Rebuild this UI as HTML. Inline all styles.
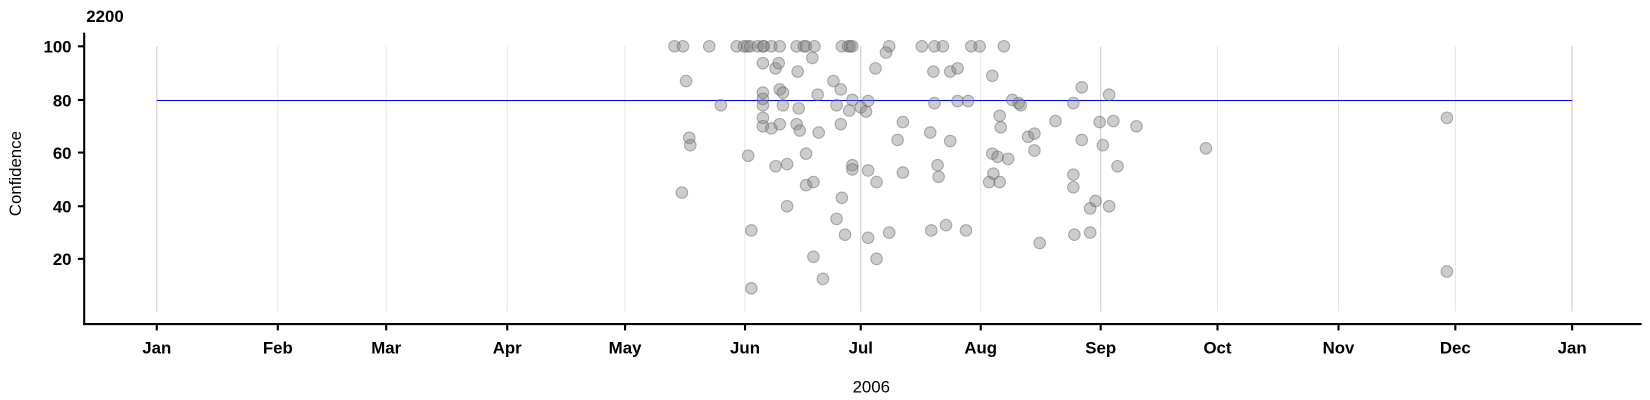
<!DOCTYPE html>
<html><head><meta charset="utf-8"><style>
body{margin:0;background:#fff;overflow:hidden;}
svg{display:block;}
svg text{font-family:"Liberation Sans",Arial,sans-serif;}
</style></head><body>
<svg width="1650" height="400" viewBox="0 0 1568 380.12" preserveAspectRatio="none" xmlns="http://www.w3.org/2000/svg">
<g stroke-width="1">
<line x1="149" y1="44" x2="149" y2="296" stroke="#ccc"/>
<line x1="264" y1="44" x2="264" y2="296" stroke="#e6e6e6"/>
<line x1="367" y1="44" x2="367" y2="296" stroke="#e6e6e6"/>
<line x1="482" y1="44" x2="482" y2="296" stroke="#e6e6e6"/>
<line x1="594" y1="44" x2="594" y2="296" stroke="#e6e6e6"/>
<line x1="708" y1="44" x2="708" y2="296" stroke="#e6e6e6"/>
<line x1="818" y1="44" x2="818" y2="296" stroke="#ccc"/>
<line x1="932" y1="44" x2="932" y2="296" stroke="#e6e6e6"/>
<line x1="1046" y1="44" x2="1046" y2="296" stroke="#ccc"/>
<line x1="1157" y1="44" x2="1157" y2="296" stroke="#e6e6e6"/>
<line x1="1272" y1="44" x2="1272" y2="296" stroke="#e6e6e6"/>
<line x1="1383" y1="44" x2="1383" y2="296" stroke="#e6e6e6"/>
<line x1="1494" y1="44" x2="1494" y2="296" stroke="#ccc"/>
</g>
<line x1="149" y1="95.5" x2="1494" y2="95.5" stroke="#0000ff" stroke-width="1"/>
<g fill="rgba(128,128,128,0.4)" stroke="rgba(90,90,90,0.45)" stroke-width="1">
<circle cx="641" cy="44" r="5.5"/><circle cx="649" cy="44" r="5.5"/><circle cx="674" cy="44" r="5.5"/><circle cx="700" cy="44" r="5.5"/><circle cx="707" cy="44" r="5.5"/><circle cx="710" cy="44" r="5.5"/><circle cx="713" cy="44" r="5.5"/><circle cx="720" cy="44" r="5.5"/><circle cx="725" cy="44" r="5.5"/><circle cx="726" cy="44" r="5.5"/><circle cx="733" cy="44" r="5.5"/><circle cx="741" cy="44" r="5.5"/><circle cx="757" cy="44" r="5.5"/><circle cx="764" cy="44" r="5.5"/><circle cx="766" cy="44" r="5.5"/><circle cx="774" cy="44" r="5.5"/><circle cx="800" cy="44" r="5.5"/><circle cx="806" cy="44" r="5.5"/><circle cx="808" cy="44" r="5.5"/><circle cx="810" cy="44" r="5.5"/><circle cx="845" cy="44" r="5.5"/><circle cx="888" cy="44" r="5.5"/><circle cx="896" cy="44" r="5.5"/><circle cx="923" cy="44" r="5.5"/><circle cx="931" cy="44" r="5.5"/><circle cx="954" cy="44" r="5.5"/>
<circle cx="652" cy="77" r="5.5"/><circle cx="655" cy="131" r="5.5"/><circle cx="656" cy="138" r="5.5"/><circle cx="648" cy="183" r="5.5"/><circle cx="685" cy="100" r="5.5"/><circle cx="711" cy="148" r="5.5"/><circle cx="714" cy="219" r="5.5"/><circle cx="714" cy="274" r="5.5"/><circle cx="725" cy="60" r="5.5"/><circle cx="725" cy="88" r="5.5"/><circle cx="725" cy="94" r="5.5"/><circle cx="725" cy="100" r="5.5"/><circle cx="725" cy="112" r="5.5"/><circle cx="725" cy="120" r="5.5"/><circle cx="733" cy="122" r="5.5"/><circle cx="737" cy="65" r="5.5"/><circle cx="740" cy="60" r="5.5"/><circle cx="741" cy="85" r="5.5"/><circle cx="744" cy="88" r="5.5"/><circle cx="744" cy="100" r="5.5"/><circle cx="741" cy="118" r="5.5"/><circle cx="737" cy="158" r="5.5"/><circle cx="748" cy="156" r="5.5"/><circle cx="748" cy="196" r="5.5"/><circle cx="758" cy="68" r="5.5"/><circle cx="759" cy="103" r="5.5"/><circle cx="757" cy="118" r="5.5"/><circle cx="760" cy="124" r="5.5"/><circle cx="766" cy="146" r="5.5"/><circle cx="766" cy="176" r="5.5"/><circle cx="773" cy="173" r="5.5"/><circle cx="772" cy="55" r="5.5"/><circle cx="773" cy="244" r="5.5"/><circle cx="777" cy="90" r="5.5"/><circle cx="778" cy="126" r="5.5"/><circle cx="782" cy="265" r="5.5"/><circle cx="792" cy="77" r="5.5"/><circle cx="795" cy="208" r="5.5"/><circle cx="799" cy="85" r="5.5"/><circle cx="795" cy="100" r="5.5"/><circle cx="799" cy="118" r="5.5"/><circle cx="800" cy="188" r="5.5"/><circle cx="803" cy="223" r="5.5"/><circle cx="807" cy="105" r="5.5"/><circle cx="810" cy="95" r="5.5"/><circle cx="810" cy="157" r="5.5"/><circle cx="810" cy="161" r="5.5"/><circle cx="818" cy="102" r="5.5"/><circle cx="823" cy="106" r="5.5"/><circle cx="825" cy="96" r="5.5"/><circle cx="825" cy="162" r="5.5"/><circle cx="825" cy="226" r="5.5"/><circle cx="832" cy="65" r="5.5"/><circle cx="833" cy="173" r="5.5"/><circle cx="833" cy="246" r="5.5"/><circle cx="842" cy="50" r="5.5"/><circle cx="845" cy="221" r="5.5"/><circle cx="853" cy="133" r="5.5"/><circle cx="858" cy="116" r="5.5"/><circle cx="858" cy="164" r="5.5"/><circle cx="876" cy="44" r="5.5"/><circle cx="884" cy="126" r="5.5"/><circle cx="885" cy="219" r="5.5"/><circle cx="887" cy="68" r="5.5"/><circle cx="888" cy="98" r="5.5"/><circle cx="891" cy="157" r="5.5"/><circle cx="892" cy="168" r="5.5"/><circle cx="899" cy="214" r="5.5"/><circle cx="903" cy="134" r="5.5"/><circle cx="903" cy="68" r="5.5"/><circle cx="910" cy="65" r="5.5"/><circle cx="910" cy="96" r="5.5"/><circle cx="920" cy="96" r="5.5"/><circle cx="918" cy="219" r="5.5"/><circle cx="940" cy="173" r="5.5"/><circle cx="943" cy="72" r="5.5"/><circle cx="943" cy="146" r="5.5"/><circle cx="944" cy="165" r="5.5"/><circle cx="948" cy="149" r="5.5"/><circle cx="950" cy="110" r="5.5"/><circle cx="951" cy="121" r="5.5"/><circle cx="950" cy="173" r="5.5"/><circle cx="958" cy="151" r="5.5"/><circle cx="962" cy="95" r="5.5"/><circle cx="968" cy="98" r="5.5"/><circle cx="970" cy="100" r="5.5"/><circle cx="977" cy="130" r="5.5"/><circle cx="983" cy="127" r="5.5"/><circle cx="983" cy="143" r="5.5"/><circle cx="988" cy="231" r="5.5"/><circle cx="1003" cy="115" r="5.5"/><circle cx="1020" cy="98" r="5.5"/><circle cx="1020" cy="166" r="5.5"/><circle cx="1020" cy="178" r="5.5"/><circle cx="1021" cy="223" r="5.5"/><circle cx="1028" cy="83" r="5.5"/><circle cx="1028" cy="133" r="5.5"/><circle cx="1036" cy="198" r="5.5"/><circle cx="1036" cy="221" r="5.5"/><circle cx="1041" cy="191" r="5.5"/><circle cx="1045" cy="116" r="5.5"/><circle cx="1048" cy="138" r="5.5"/><circle cx="1054" cy="90" r="5.5"/><circle cx="1054" cy="196" r="5.5"/><circle cx="1058" cy="115" r="5.5"/><circle cx="1062" cy="158" r="5.5"/><circle cx="1080" cy="120" r="5.5"/><circle cx="1146" cy="141" r="5.5"/><circle cx="1375" cy="112" r="5.5"/><circle cx="1375" cy="258" r="5.5"/>
</g>
<g stroke="#000" stroke-width="2">
<line x1="80" y1="31" x2="80" y2="309"/>
<line x1="79" y1="308" x2="1560" y2="308"/>
<line x1="74" y1="44" x2="80" y2="44"/><line x1="74" y1="95" x2="80" y2="95"/><line x1="74" y1="145" x2="80" y2="145"/><line x1="74" y1="196" x2="80" y2="196"/><line x1="74" y1="246" x2="80" y2="246"/>
<line x1="149" y1="308" x2="149" y2="314"/><line x1="264" y1="308" x2="264" y2="314"/><line x1="367" y1="308" x2="367" y2="314"/><line x1="482" y1="308" x2="482" y2="314"/><line x1="594" y1="308" x2="594" y2="314"/><line x1="708" y1="308" x2="708" y2="314"/><line x1="818" y1="308" x2="818" y2="314"/><line x1="932" y1="308" x2="932" y2="314"/><line x1="1046" y1="308" x2="1046" y2="314"/><line x1="1157" y1="308" x2="1157" y2="314"/><line x1="1272" y1="308" x2="1272" y2="314"/><line x1="1383" y1="308" x2="1383" y2="314"/><line x1="1494" y1="308" x2="1494" y2="314"/>
</g>
<g font-size="16" font-weight="bold" fill="#000" text-anchor="end">
<text x="68" y="50">100</text><text x="68" y="101">80</text><text x="68" y="151">60</text><text x="68" y="202">40</text><text x="68" y="252">20</text>
</g>
<text x="82" y="21" font-size="16" font-weight="bold">2200</text>
<g font-size="16" font-weight="bold" fill="#000" text-anchor="middle">
<text x="149" y="336">Jan</text><text x="264" y="336">Feb</text><text x="367" y="336">Mar</text><text x="482" y="336">Apr</text><text x="594" y="336">May</text><text x="708" y="336">Jun</text><text x="818" y="336">Jul</text><text x="932" y="336">Aug</text><text x="1046" y="336">Sep</text><text x="1157" y="336">Oct</text><text x="1272" y="336">Nov</text><text x="1383" y="336">Dec</text><text x="1494" y="336">Jan</text>
</g>
<text x="828" y="373" font-size="16" text-anchor="middle">2006</text>
<text transform="translate(20,165) rotate(-90)" font-size="16" text-anchor="middle">Confidence</text>
</svg>
</body></html>
